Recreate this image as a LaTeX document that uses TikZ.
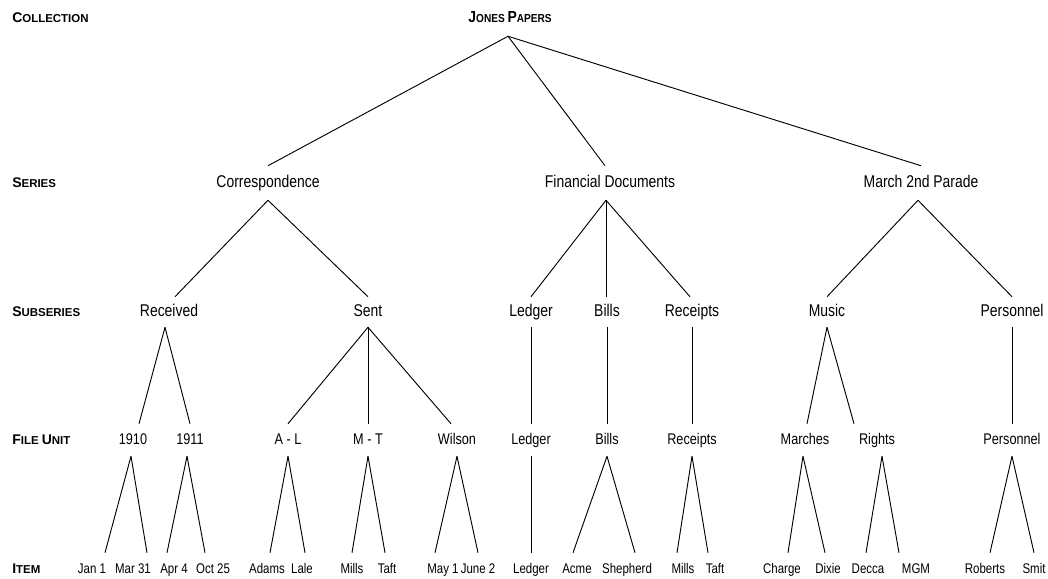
\documentclass[tikz,border=0pt]{standalone}
\usepackage{fontspec}
\setmainfont[FakeStretch=0.82]{Liberation Sans}
\newfontfamily\lblfont{Liberation Sans}
\newfontfamily\capsfont[FakeStretch=0.87]{Liberation Sans}
\usetikzlibrary{calc}
\newcommand{\Sc}[3][10.5]{{\fontsize{#1}{12}\selectfont #2}#3}

\begin{document}
\begin{tikzpicture}[x=0.75pt,y=-0.75pt]

\tikzstyle{levellabel} = [anchor=west, inner sep=0pt, font=\lblfont\bfseries\fontsize{8.6}{10}\selectfont]
\tikzstyle{tree} = [inner sep=0pt, text height=9pt, text depth=2.5pt]

\tikzset{
  rootbox/.style={tree, minimum height=27pt, font=\capsfont\bfseries\fontsize{8.7}{10}\selectfont},
  series/.style={tree, minimum height=25.5pt, font=\fontsize{12.75}{14}\selectfont},
  subseries/.style={tree, minimum height=22.5pt, font=\fontsize{12.75}{14}\selectfont},
  fileunit/.style={tree, minimum height=24pt, font=\fontsize{11.6}{13}\selectfont},
  itembox/.style={tree, minimum height=24pt, font=\fontsize{10.5}{12}\selectfont},
  branch/.style={line width=0.7pt},
}

\useasboundingbox (0,0) rectangle (1048,578);

\coordinate (origin) at (0,0);

%Level labels: left column

\path (origin)+(12,18) node (lab_collection) [levellabel] {\Sc{C}{OLLECTION}};
\path (origin)+(12,183) node (lab_series) [levellabel] {\Sc{S}{ERIES}};
\path (origin)+(12,312) node (lab_subseries) [levellabel] {\Sc{S}{UBSERIES}};
\path (origin)+(12,440) node (lab_fileunit) [levellabel] {\Sc{F}{ILE} \Sc{U}{NIT}};
\path (origin)+(12,569) node (lab_item) [levellabel] {\Sc{I}{TEM}};

%Collection: top

\path (origin)+(510,18) node (jones) [rootbox] {\Sc[12]{J}{ONES} \Sc[12]{P}{APERS}};

%Series

\path (origin)+(268,183) node (corr) [series] {Correspondence};
\path (origin)+(610,183) node (fin) [series] {Financial Documents};
\path (origin)+(921,183) node (march) [series] {March 2nd Parade};

%Subseries

\path (origin)+(169,312) node (received) [subseries] {Received};
\path (origin)+(368,312) node (sent) [subseries] {Sent};
\path (origin)+(531,312) node (ledger_s) [subseries] {Ledger};
\path (origin)+(607,312) node (bills_s) [subseries] {Bills};
\path (origin)+(692,312) node (receipts_s) [subseries] {Receipts};
\path (origin)+(827,312) node (music) [subseries] {Music};
\path (origin)+(1012,312) node (personnel_s) [subseries] {Personnel};

%File units

\path (origin)+(133,440) node (f1910) [fileunit] {1910};
\path (origin)+(190,440) node (f1911) [fileunit] {1911};
\path (origin)+(288,440) node (f_al) [fileunit] {A - L};
\path (origin)+(368,440) node (f_mt) [fileunit] {M - T};
\path (origin)+(457,440) node (wilson) [fileunit] {Wilson};
\path (origin)+(531,440) node (ledger_f) [fileunit] {Ledger};
\path (origin)+(607,440) node (bills_f) [fileunit] {Bills};
\path (origin)+(692,440) node (receipts_f) [fileunit] {Receipts};
\path (origin)+(805,440) node (marches) [fileunit] {Marches};
\path (origin)+(877,440) node (rights) [fileunit] {Rights};
\path (origin)+(1012,440) node (personnel_f) [fileunit] {Personnel};

%Items: bottom row

\path (origin)+(92,569) node (jan1) [itembox] {Jan 1};
\path (origin)+(133,569) node (mar31) [itembox] {Mar 31};
\path (origin)+(174,569) node (apr4) [itembox] {Apr 4};
\path (origin)+(213,569) node (oct25) [itembox] {Oct 25};
\path (origin)+(267,569) node (adams) [itembox] {Adams};
\path (origin)+(302,569) node (lale) [itembox] {Lale};
\path (origin)+(352,569) node (mills_a) [itembox] {Mills};
\path (origin)+(387,569) node (taft_a) [itembox] {Taft};
\path (origin)+(443,569) node (may1) [itembox] {May 1};
\path (origin)+(478,569) node (june2) [itembox] {June 2};
\path (origin)+(531,569) node (ledger_i) [itembox] {Ledger};
\path (origin)+(577,569) node (acme) [itembox] {Acme};
\path (origin)+(627,569) node (shepherd) [itembox] {Shepherd};
\path (origin)+(683,569) node (mills_b) [itembox] {Mills};
\path (origin)+(715,569) node (taft_b) [itembox] {Taft};
\path (origin)+(782,569) node (charge) [itembox] {Charge};
\path (origin)+(828,569) node (dixie) [itembox] {Dixie};
\path (origin)+(868,569) node (decca) [itembox] {Decca};
\path (origin)+(916,569) node (mgm) [itembox] {MGM};
\path (origin)+(985,569) node (roberts) [itembox] {Roberts};
\path (origin)+(1034,569) node (smit) [itembox] {Smit};

%Branches

\draw [branch] ($(jones.south)+(-2,0)$) -- (corr.north);
\draw [branch] ($(jones.south)+(-2,0)$) -- ($(fin.north)+(-5,0)$);
\draw [branch] ($(jones.south)+(-2,0)$) -- (march.north);

\draw [branch] (corr.south) -- ($(received.north)+(6,0)$);
\draw [branch] (corr.south) -- (sent.north);
\draw [branch] ($(fin.south)+(-4,0)$) -- (ledger_s.north);
\draw [branch] ($(fin.south)+(-4,0)$) -- ($(bills_s.north)+(-1,0)$);
\draw [branch] ($(fin.south)+(-4,0)$) -- ($(receipts_s.north)+(-2,0)$);
\draw [branch] ($(march.south)+(-3,0)$) -- (music.north);
\draw [branch] ($(march.south)+(-3,0)$) -- (personnel_s.north);

\draw [branch] ($(received.south)+(-4,0)$) -- ($(f1910.north)+(6,0)$);
\draw [branch] ($(received.south)+(-4,0)$) -- (f1911.north);
\draw [branch] (sent.south) -- (f_al.north);
\draw [branch] (sent.south) -- (f_mt.north);
\draw [branch] (sent.south) -- ($(wilson.north)+(-6,0)$);
\draw [branch] (ledger_s.south) -- (ledger_f.north);
\draw [branch] (bills_s.south) -- (bills_f.north);
\draw [branch] (receipts_s.south) -- (receipts_f.north);
\draw [branch] (music.south) -- ($(marches.north)+(2,0)$);
\draw [branch] (music.south) -- ($(rights.north)+(-23,0)$);
\draw [branch] (personnel_s.south) -- (personnel_f.north);

\draw [branch] ($(f1910.south)+(-2,0)$) -- ($(jan1.north)+(13,0)$);
\draw [branch] ($(f1910.south)+(-2,0)$) -- ($(mar31.north)+(14,0)$);
\draw [branch] ($(f1911.south)+(-3,0)$) -- ($(apr4.north)+(-7,0)$);
\draw [branch] ($(f1911.south)+(-3,0)$) -- ($(oct25.north)+(-8,0)$);
\draw [branch] (f_al.south) -- ($(adams.north)+(3,0)$);
\draw [branch] (f_al.south) -- ($(lale.north)+(3,0)$);
\draw [branch] (f_mt.south) -- (mills_a.north);
\draw [branch] (f_mt.south) -- ($(taft_a.north)+(-2,0)$);
\draw [branch] (wilson.south) -- ($(may1.north)+(-8,0)$);
\draw [branch] (wilson.south) -- (june2.north);
\draw [branch] (ledger_f.south) -- (ledger_i.north);
\draw [branch] (bills_f.south) -- ($(acme.north)+(-4,0)$);
\draw [branch] (bills_f.south) -- ($(shepherd.north)+(8,0)$);
\draw [branch] (receipts_f.south) -- ($(mills_b.north)+(-6,0)$);
\draw [branch] (receipts_f.south) -- ($(taft_b.north)+(-7,0)$);
\draw [branch] ($(marches.south)+(-2,0)$) -- ($(charge.north)+(6,0)$);
\draw [branch] ($(marches.south)+(-2,0)$) -- ($(dixie.north)+(-3,0)$);
\draw [branch] ($(rights.south)+(5,0)$) -- ($(decca.north)+(-2,0)$);
\draw [branch] ($(rights.south)+(5,0)$) -- ($(mgm.north)+(-17,0)$);
\draw [branch] (personnel_f.south) -- ($(roberts.north)+(5,0)$);
\draw [branch] (personnel_f.south) -- (smit.north);

\end{tikzpicture}
\end{document}
